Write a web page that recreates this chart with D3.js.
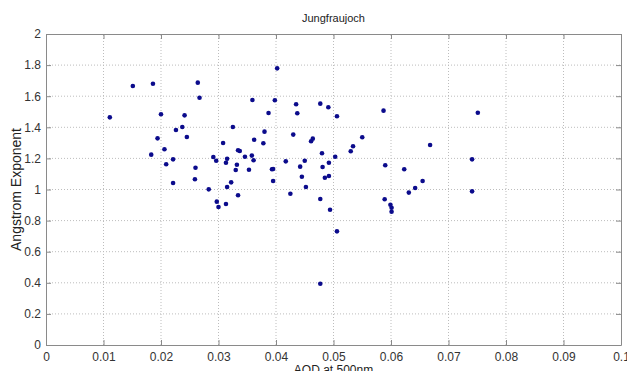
<!DOCTYPE html>
<html>
<head>
<meta charset="utf-8">
<script src="https://cdn.jsdelivr.net/npm/d3@7"></script>
<style>
  body { margin: 0; background: #fff; }
  svg { display: block; font-family: "Liberation Sans", Arial, sans-serif; }
</style>
</head>
<body>
<div id="chart"></div>
<script>
// AOD at 500nm vs Angstrom exponent
const aod = [
  0.0111, 0.0151, 0.0186, 0.0264, 0.0267, 0.0200, 0.0241, 0.0226, 0.0237, 0.0245,
  0.0194, 0.0206, 0.0183, 0.0221, 0.0209, 0.0260, 0.0259, 0.0221, 0.0283, 0.0308,
  0.0325, 0.0334, 0.0291, 0.0296, 0.0315, 0.0313, 0.0332, 0.0330, 0.0322, 0.0315,
  0.0334, 0.0402, 0.0359, 0.0398, 0.0387, 0.0435, 0.0437, 0.0477, 0.0491, 0.0506,
  0.0587, 0.0380, 0.0362, 0.0378, 0.0337, 0.0430, 0.0461, 0.0464, 0.0346, 0.0358,
  0.0361, 0.0353, 0.0393, 0.0395, 0.0417, 0.0442, 0.0450, 0.0480, 0.0503, 0.0481,
  0.0492, 0.0530, 0.0534, 0.0550, 0.0590, 0.0395, 0.0445, 0.0452, 0.0485, 0.0492,
  0.0425, 0.0477, 0.0589, 0.0297, 0.0300, 0.0313, 0.0494, 0.0506, 0.0477, 0.0599,
  0.0601, 0.0601, 0.0751, 0.0668, 0.0623, 0.0741, 0.0655, 0.0642, 0.0631, 0.0741
];
const angstrom = [
  1.464, 1.666, 1.680, 1.687, 1.590, 1.484, 1.477, 1.383, 1.402, 1.338,
  1.329, 1.259, 1.224, 1.194, 1.162, 1.140, 1.066, 1.042, 1.001, 1.299,
  1.402, 1.252, 1.209, 1.185, 1.198, 1.172, 1.159, 1.125, 1.046, 1.016,
  0.963, 1.779, 1.576, 1.574, 1.492, 1.548, 1.490, 1.552, 1.529, 1.471,
  1.507, 1.372, 1.320, 1.297, 1.248, 1.353, 1.310, 1.327, 1.211, 1.218,
  1.188, 1.127, 1.130, 1.132, 1.181, 1.147, 1.185, 1.233, 1.211, 1.145,
  1.172, 1.246, 1.278, 1.336, 1.156, 1.055, 1.082, 1.016, 1.076, 1.087,
  0.973, 0.939, 0.937, 0.922, 0.887, 0.907, 0.870, 0.731, 0.394, 0.902,
  0.883, 0.857, 1.494, 1.286, 1.130, 1.194, 1.055, 1.010, 0.980, 0.988
];
const xTicks = [0, 0.01, 0.02, 0.03, 0.04, 0.05, 0.06, 0.07, 0.08, 0.09, 0.1];
const yTicks = [0, 0.2, 0.4, 0.6, 0.8, 1, 1.2, 1.4, 1.6, 1.8, 2];
const xTickLabels = ["0", "0.01", "0.02", "0.03", "0.04", "0.05", "0.06", "0.07", "0.08", "0.09", "0.1"];
const yTickLabels = ["0", "0.2", "0.4", "0.6", "0.8", "1", "1.2", "1.4", "1.6", "1.8", "2"];

const width = 627, height = 371;
const margin = { top: 34, right: 6, bottom: 26, left: 46 };
const innerW = width - margin.left - margin.right;
const innerH = height - margin.top - margin.bottom;

const svg = d3.select('#chart').append('svg')
    .attr('width', width)
    .attr('height', height);

const x = d3.scaleLinear().domain([0, 0.1]).range([margin.left, margin.left + innerW]);
const y = d3.scaleLinear().domain([0, 2]).range([margin.top + innerH, margin.top]);

const axisColor = '#8a8a8a';
const textColor = '#333';

// Grid lines (dotted)
const grid = svg.append('g').attr('class', 'grid');
grid.selectAll('.vgrid')
    .data(xTicks.slice(1, -1))
    .enter()
    .append('line')
    .attr('x1', d => x(d)).attr('x2', d => x(d))
    .attr('y1', y(0)).attr('y2', y(2))
    .attr('stroke', '#bdbdbd')
    .attr('stroke-dasharray', '1,2');
grid.selectAll('.hgrid')
    .data(yTicks.slice(1, -1))
    .enter()
    .append('line')
    .attr('x1', x(0)).attr('x2', x(0.1))
    .attr('y1', d => y(d)).attr('y2', d => y(d))
    .attr('stroke', '#bdbdbd')
    .attr('stroke-dasharray', '1,2');

// Axes, ticks inward on all four sides
const tickFmtX = (d, i) => xTickLabels[i];
const tickFmtY = (d, i) => yTickLabels[i];

const axBottom = svg.append('g')
    .attr('transform', `translate(0, ${y(0)})`)
    .call(d3.axisBottom(x).tickValues(xTicks).tickFormat(tickFmtX).tickSizeInner(-5).tickSizeOuter(0).tickPadding(7));
const axLeft = svg.append('g')
    .attr('transform', `translate(${x(0)}, 0)`)
    .call(d3.axisLeft(y).tickValues(yTicks).tickFormat(tickFmtY).tickSizeInner(-5).tickSizeOuter(0).tickPadding(5));
const axTop = svg.append('g')
    .attr('transform', `translate(0, ${y(2)})`)
    .call(d3.axisTop(x).tickValues(xTicks).tickFormat('').tickSizeInner(-5).tickSizeOuter(0));
const axRight = svg.append('g')
    .attr('transform', `translate(${x(0.1)}, 0)`)
    .call(d3.axisRight(y).tickValues(yTicks).tickFormat('').tickSizeInner(-5).tickSizeOuter(0));

[axBottom, axLeft, axTop, axRight].forEach(g => {
    g.selectAll('path').attr('stroke', axisColor);
    g.selectAll('line').attr('stroke', axisColor);
    g.selectAll('text').attr('fill', textColor).style('font-size', '12px');
});

// Points
svg.append('g')
    .selectAll('circle')
    .data(aod.map((d, i) => [d, angstrom[i]]))
    .enter()
    .append('circle')
    .attr('cx', d => x(d[0]))
    .attr('cy', d => y(d[1]))
    .attr('r', 2.3)
    .attr('fill', '#0b0b8c');

// Title and labels
svg.append('text')
    .attr('x', x(0.05))
    .attr('y', 22)
    .attr('text-anchor', 'middle')
    .attr('fill', '#222')
    .style('font-size', '11px')
    .text('Jungfraujoch');

svg.append('text')
    .attr('x', x(0.05))
    .attr('y', 374)
    .attr('text-anchor', 'middle')
    .attr('fill', '#222')
    .style('font-size', '12px')
    .text('AOD at 500nm');

svg.append('text')
    .attr('transform', `translate(21, ${y(1)}) rotate(-90)`)
    .attr('text-anchor', 'middle')
    .attr('fill', '#222')
    .style('font-size', '14px')
    .text('Angstrom Exponent');
</script>
</body>
</html>
